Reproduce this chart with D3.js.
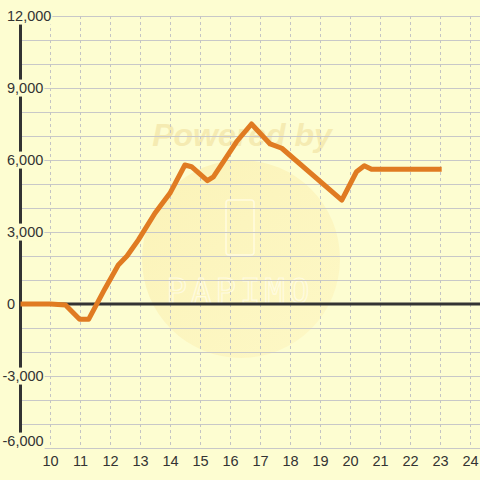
<!DOCTYPE html>
<html><head><meta charset="utf-8">
<script src="https://cdn.jsdelivr.net/npm/d3@7"></script>
<style>html,body{margin:0;padding:0;background:#fdfdd1;}svg{display:block;}</style>
</head><body>
<svg id="c" width="480" height="480"></svg>
<script>
const hours = [9, 10, 10.5, 10.97, 11.27, 11.82, 12.26, 12.55, 12.93, 13.48, 13.98, 14.48, 14.7, 15.23, 15.43, 16.2, 16.7, 17.32, 17.71, 19.71, 20.2, 20.46, 20.7, 23.04];
const values = [0, 0, -40, -640, -640, 650, 1625, 2000, 2670, 3780, 4610, 5790, 5720, 5140, 5300, 6760, 7500, 6670, 6490, 4330, 5510, 5760, 5610, 5610];
const xTicks = [10, 11, 12, 13, 14, 15, 16, 17, 18, 19, 20, 21, 22, 23, 24];
const yTicks = [-6000, -3000, 0, 3000, 6000, 9000, 12000];
const yGrid = d3.range(-6000, 12001, 1000);

const W = 480, H = 480, bg = "#fdfdd1";
const svg = d3.select("#c");
const x = d3.scaleLinear().domain([9, 24]).range([20.5, 470.5]);
const y = d3.scaleLinear().domain([-6000, 12000]).range([448, 16]);

svg.append("rect").attr("width", W).attr("height", H).attr("fill", bg);

// watermark
const defs = svg.append("defs");
const g = defs.append("linearGradient").attr("id", "wm").attr("x1", "0").attr("y1", "0").attr("x2", "1").attr("y2", "1");
g.append("stop").attr("offset", "0").attr("stop-color", "#fbf1b4");
g.append("stop").attr("offset", "1").attr("stop-color", "#fdf7c4");
svg.append("circle").attr("cx", 241).attr("cy", 259).attr("r", 99).attr("fill", "url(#wm)").attr("opacity", 0.85);
svg.append("text").attr("x", 242).attr("y", 146).attr("text-anchor", "middle")
  .attr("font-family", "Liberation Sans, Arial, sans-serif").attr("font-weight", "bold").attr("font-style", "italic")
  .attr("font-size", 32).attr("fill", "#f5ebb2").text("Powered by");
svg.append("rect").attr("x", 226).attr("y", 200).attr("width", 28).attr("height", 55).attr("rx", 3)
  .attr("fill", "none").attr("stroke", "#fffbe0").attr("stroke-width", 1.5);
svg.append("text").attr("x", 240).attr("y", 303).attr("text-anchor", "middle")
  .attr("font-family", "DejaVu Sans Mono, monospace").attr("font-size", 34).attr("letter-spacing", 4)
  .attr("fill", "none").attr("stroke", "#fffbe0").attr("stroke-width", 1.2).text("PAPIMO");

// grid
svg.append("g").selectAll("line").data(yGrid).join("line")
  .attr("x1", 21).attr("x2", W).attr("y1", d => Math.round(y(d)) + 0.5).attr("y2", d => Math.round(y(d)) + 0.5)
  .attr("stroke", "#c8c8c8").attr("stroke-width", 1);
svg.append("g").selectAll("line").data(xTicks).join("line")
  .attr("x1", d => x(d)).attr("x2", d => x(d)).attr("y1", 16).attr("y2", 448)
  .attr("stroke", "#c4c4c4").attr("stroke-width", 1).attr("stroke-dasharray", "3,3");

// axes
svg.append("line").attr("x1", 20.5).attr("x2", 20.5).attr("y1", 16).attr("y2", 448)
  .attr("stroke", "#333").attr("stroke-width", 3);
svg.append("line").attr("x1", 20.5).attr("x2", W).attr("y1", y(0)).attr("y2", y(0))
  .attr("stroke", "#333").attr("stroke-width", 3);

// y labels with background
const fmt = v => d3.format(",")(v).replace("\u2212", "-");
const yl = svg.append("g").attr("font-family", "Liberation Sans, Arial, sans-serif").attr("font-size", 14.5).attr("fill", "#333");
yTicks.forEach(v => {
  const gg = yl.append("g");
  const ty = Math.min(y(v), 441);
  const t = gg.append("text").attr("x", v < 0 ? 2.5 : 7).attr("y", ty).attr("dy", "0.35em").text(fmt(v));
  const b = t.node().getBBox();
  gg.insert("rect", "text").attr("x", b.x - 1).attr("y", b.y - 0.5).attr("width", b.width + 2).attr("height", b.height + 1).attr("fill", bg);
});

// x labels
svg.append("g").attr("font-family", "Liberation Sans, Arial, sans-serif").attr("font-size", 14.5).attr("fill", "#333")
  .selectAll("text").data(xTicks).join("text")
  .attr("x", d => x(d)).attr("y", 461).attr("dy", "0.35em").attr("text-anchor", "middle").text(d => d);

// series
const line = d3.line().x((d, i) => x(hours[i])).y(d => y(d));
svg.append("path").datum(values).attr("d", line).attr("fill", "none")
  .attr("stroke", "#e07b22").attr("stroke-width", 5).attr("stroke-linejoin", "round").attr("stroke-linecap", "butt");
</script>
</body></html>
